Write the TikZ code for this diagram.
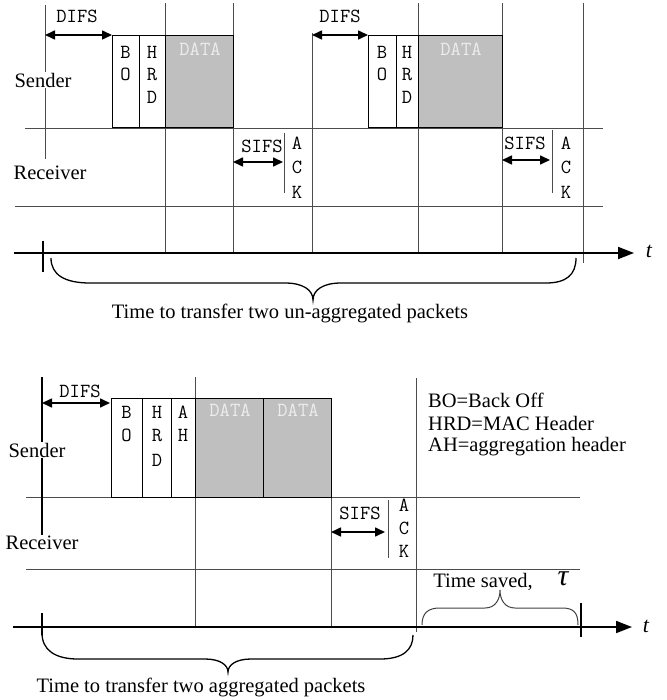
\documentclass[tikz,border=0pt]{standalone}
\usepackage{fontspec}
\setmainfont{Liberation Serif}
\usetikzlibrary{arrows.meta}
\begin{document}
\begin{tikzpicture}[x=1pt,y=-1pt,
  gline/.style={draw=black!70, line width=0.9pt},
  bline/.style={draw=black, line width=1.5pt},
  boxx/.style={draw=black, line width=1pt, fill=white},
  dbox/.style={draw=black, line width=1pt, fill=black!25},
  dur/.style={{Triangle[length=10pt,width=9pt]}-{Triangle[length=10pt,width=9pt]}, line width=1.6pt},
  axis/.style={-{Triangle[length=16pt,width=12pt]}, line width=1.8pt},
  lbl/.style={font=\fontsize{20.5}{24}\selectfont, inner sep=1pt},
  wlbl/.style={lbl, fill=white},
  mono/.style={font=\ttfamily\fontsize{20}{23}\selectfont, inner sep=0pt},
  dtext/.style={inner sep=0pt, font=\ttfamily\fontsize{20}{23}\selectfont\addfontfeature{LetterSpace=14}, text=black!7},
  brace/.style={draw=black, line width=1.3pt},
  sbrace/.style={draw=black!75, line width=1pt}]
\useasboundingbox (0,0) rectangle (666,700);

% ================= TOP DIAGRAM =================
\draw[gline] (25,128) -- (603,128);
\draw[gline] (15,206) -- (603,206);
\draw[gline] (45,5) -- (45,159);
\foreach \x/\y in {165/3,233/3,312/33,418/3,502/3}
  \draw[gline] (\x,\y) -- (\x,253);
\draw[gline] (583,3) -- (583,263);
% boxes
\node[boxx, minimum width=27pt, minimum height=92pt, inner sep=0pt] (bo1) at (125.5,82) {};
\node[boxx, minimum width=26pt, minimum height=92pt, inner sep=0pt] (hrd1) at (152,82) {};
\node[dbox, minimum width=68pt, minimum height=92pt, inner sep=0pt] (data1) at (199,82) {};
\node[boxx, minimum width=28pt, minimum height=92pt, inner sep=0pt] (bo2) at (382,82) {};
\node[boxx, minimum width=22pt, minimum height=92pt, inner sep=0pt] (hrd2) at (407,82) {};
\node[dbox, minimum width=84pt, minimum height=92pt, inner sep=0pt] (data2) at (460,82) {};
% box letters
\foreach \l [count=\i] in {B,O} \node[mono] (tbo\i) at (125.5,52+22*\i-22) {\l};
\foreach \l [count=\i] in {H,R,D} \node[mono] (thr\i) at (152,52+22.5*\i-22.5) {\l};
\foreach \l [count=\i] in {B,O} \node[mono] (tbob\i) at (382,52+22*\i-22) {\l};
\foreach \l [count=\i] in {H,R,D} \node[mono] (thrb\i) at (407,52+22.5*\i-22.5) {\l};
\node[dtext] (dt1) at (200,49) {DATA};
\node[dtext] (dt2) at (461,49) {DATA};
% DIFS
\coordinate (d1a) at (45,35); \coordinate (d1b) at (112,35);
\draw[dur] (d1a) -- (d1b);
\node[mono] (difs1) at (77,16) {DIFS};
\coordinate (d2a) at (312,35); \coordinate (d2b) at (368,35);
\draw[dur] (d2a) -- (d2b);
\node[mono] (difs2) at (340,16) {DIFS};
% SIFS / ACK
\coordinate (s1a) at (233,162); \coordinate (s1b) at (283,162);
\draw[dur] (s1a) -- (s1b);
\node[mono] (sifs1) at (262,146) {SIFS};
\coordinate (k1a) at (284,133); \coordinate (k1b) at (284,193);
\draw[gline] (k1a) -- (k1b);
\foreach \l [count=\i] in {A,C,K} \node[mono] (tk\i) at (297,143+24.5*\i-24.5) {\l};
\coordinate (s2a) at (502,160); \coordinate (s2b) at (550,160);
\draw[dur] (s2a) -- (s2b);
\node[mono] (sifs2) at (525,143) {SIFS};
\coordinate (k2a) at (552,130); \coordinate (k2b) at (552,193);
\draw[gline] (k2a) -- (k2b);
\foreach \l [count=\i] in {A,C,K} \node[mono] (tkb\i) at (566,143+24.5*\i-24.5) {\l};
% labels
\node[wlbl] (snd1) at (43,80) {Sender};
\node[lbl] (rcv1) at (50,173) {Receiver};
% axis
\coordinate (ax1a) at (14,253); \coordinate (ax1b) at (634,253);
\draw[axis] (ax1a) -- (ax1b);
\node[lbl, font=\itshape\fontsize{22}{24}\selectfont] (t1) at (649,251) {t};
\draw[bline] (43,241) -- (43,272);
% brace
\draw[brace] (51,258) .. controls (51,275) and (65,283) .. (90,283) -- (285,283)
  .. controls (303,283) and (313,290) .. (313,300)
  .. controls (313,290) and (323,283) .. (341,283) -- (546,283)
  .. controls (566,283) and (576,275) .. (576,258);
\node[lbl] (cap1) at (290,313) {Time to transfer two un-aggregated packets};

% ================= BOTTOM DIAGRAM =================
\draw[gline] (26,497) -- (580,497);
\draw[gline] (26,569) -- (580,569);
\draw[bline] (42,377) -- (42,537);
\draw[gline] (195,377) -- (195,627);
\draw[gline] (331,398) -- (331,627);
\draw[gline] (416,378) -- (416,632);
% boxes
\node[boxx, minimum width=31pt, minimum height=99pt, inner sep=0pt] (bo3) at (126.5,447.5) {};
\node[boxx, minimum width=29pt, minimum height=99pt, inner sep=0pt] (hrd3) at (156.5,447.5) {};
\node[boxx, minimum width=24pt, minimum height=99pt, inner sep=0pt] (ah3) at (183,447.5) {};
\node[dbox, minimum width=68pt, minimum height=99pt, inner sep=0pt] (data3) at (229,447.5) {};
\node[dbox, minimum width=68pt, minimum height=99pt, inner sep=0pt] (data4) at (297,447.5) {};
\foreach \l [count=\i] in {B,O} \node[mono] (bbo\i) at (126.5,412+23.5*\i-23.5) {\l};
\foreach \l [count=\i] in {H,R,D} \node[mono] (bhr\i) at (157,412+24*\i-24) {\l};
\foreach \l [count=\i] in {A,H} \node[mono] (bah\i) at (183,412+23.5*\i-23.5) {\l};
\node[dtext] (dt3) at (230,410) {DATA};
\node[dtext] (dt4) at (298,410) {DATA};
% DIFS
\coordinate (d3a) at (42,403); \coordinate (d3b) at (110,403);
\draw[dur] (d3a) -- (d3b);
\node[mono] (difs3) at (80,391) {DIFS};
% SIFS / ACK
\coordinate (s3a) at (331,532); \coordinate (s3b) at (385,532);
\draw[dur] (s3a) -- (s3b);
\node[mono] (sifs3) at (360,513) {SIFS};
\coordinate (k3a) at (388,500); \coordinate (k3b) at (388,558);
\draw[gline] (k3a) -- (k3b);
\foreach \l [count=\i] in {A,C,K} \node[mono] (bk\i) at (404,505+23*\i-23) {\l};
% labels
\node[wlbl] (snd2) at (37,450) {Sender};
\node[wlbl] (rcv2) at (42,543) {Receiver};
% legend
\node[lbl, anchor=west] (leg1) at (427,400) {BO=Back Off};
\node[lbl, anchor=west] (leg2) at (427,423) {HRD=MAC Header};
\node[lbl, anchor=west] (leg3) at (427,447) {AH=aggregation header};
% axis
\coordinate (ax2a) at (13,627); \coordinate (ax2b) at (632,627);
\draw[axis] (ax2a) -- (ax2b);
\node[lbl, font=\itshape\fontsize{22}{24}\selectfont] (t2) at (646,626) {t};
\draw[bline] (42,613) -- (42,635);
\draw[bline] (581,603) -- (581,637);
% braces
\draw[brace] (42,633) .. controls (42,650) and (55,659) .. (78,659) -- (205,659)
  .. controls (220,659) and (228,665) .. (228,672)
  .. controls (228,665) and (236,659) .. (251,659) -- (380,659)
  .. controls (403,659) and (413,650) .. (413,635);
\node[lbl] (cap2) at (201,687) {Time to transfer two aggregated packets};
\draw[sbrace] (422,625) .. controls (422,613) and (428,608) .. (440,608) -- (485,608)
  .. controls (495,608) and (500,600) .. (500,590)
  .. controls (500,600) and (505,608) .. (515,608) -- (562,608)
  .. controls (574,608) and (578,613) .. (578,625);
\node[lbl] (saved) at (483,582) {Time saved,};
\node[lbl, font=\itshape\fontsize{30}{30}\selectfont] (tau) at (563,579) {τ};
\end{tikzpicture}
\end{document}
